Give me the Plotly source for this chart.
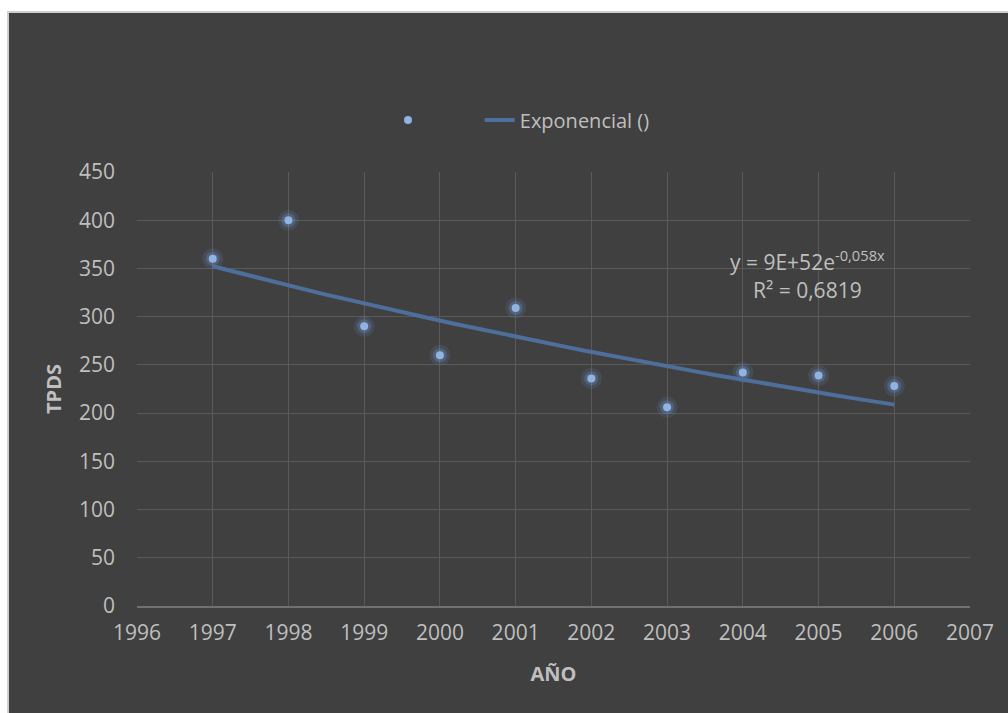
import numpy as np
import plotly.graph_objects as go

# Annual TPDS values
years = [1997, 1998, 1999, 2000, 2001, 2002, 2003, 2004, 2005, 2006]
tpds = [360, 400, 290, 260, 309, 236, 206, 242, 239, 228]

x_ticks = list(range(1996, 2008))
y_ticks = list(range(0, 451, 50))

equation_text = "y = 9E+52e<sup>-0,058x</sup>"
r2_text = "R² = 0,6819"

# Exponential trendline: least squares on log(y)
xa = np.array(years, dtype=float)
ya = np.array(tpds, dtype=float)
slope, intercept = np.polyfit(xa, np.log(ya), 1)
trend_x = np.linspace(xa.min(), xa.max(), 60)
trend_y = np.exp(intercept + slope * trend_x)

BG = "#404040"
GRID = "#5a5a5a"
TXT = "#bfbfbf"
FONT = "Open Sans"

fig = go.Figure()

# soft halo behind each point
fig.add_trace(go.Scatter(
    x=years, y=tpds, mode="markers", showlegend=False, hoverinfo="skip",
    marker=dict(size=21, color="rgba(110,150,210,0.15)", line=dict(width=0)),
))
fig.add_trace(go.Scatter(
    x=years, y=tpds, mode="markers", showlegend=False, hoverinfo="skip",
    marker=dict(size=14, color="rgba(120,160,220,0.25)", line=dict(width=0)),
))
fig.add_trace(go.Scatter(
    x=years, y=tpds, mode="markers", name="\u00a0" * 9,
    marker=dict(size=8, color="#8fb4e3", line=dict(width=0)),
))
fig.add_trace(go.Scatter(
    x=trend_x, y=trend_y, mode="lines", name="Exponencial ()",
    line=dict(color="#4e6f9b", width=4),
))

fig.add_annotation(
    x=2004.86, y=358, xref="x", yref="y", text=equation_text, showarrow=False,
    font=dict(family=FONT, size=21, color=TXT), xanchor="center", yanchor="middle",
)
fig.add_annotation(
    x=2004.86, y=328, xref="x", yref="y", text=r2_text, showarrow=False,
    font=dict(family=FONT, size=21, color=TXT), xanchor="center", yanchor="middle",
)

# chart-area frame
fig.add_shape(
    type="rect", xref="paper", yref="paper", layer="below",
    x0=-0.1549, x1=1.06, y0=-0.27, y1=1.3687,
    fillcolor=BG, line=dict(color="#d0d0d0", width=2),
)

fig.update_layout(
    width=1008, height=713,
    margin=dict(l=137, r=38, t=172, b=107),
    paper_bgcolor="white",
    plot_bgcolor="rgba(0,0,0,0)",
    font=dict(family=FONT, color=TXT, size=20),
    showlegend=True,
    legend=dict(
        orientation="h", x=(388 - 137) / 833, xanchor="left",
        y=(606 - 120) / 434, yanchor="middle",
        font=dict(family=FONT, size=20, color=TXT),
        bgcolor="rgba(0,0,0,0)",
    ),
    xaxis=dict(
        range=[1996, 2007], tickvals=x_ticks, ticktext=[str(v) for v in x_ticks],
        showgrid=True, gridcolor=GRID, gridwidth=1, zeroline=False,
        showline=True, linecolor="#707070", linewidth=2, ticks="",
        ticklabelstandoff=7,
        tickfont=dict(family=FONT, size=21, color=TXT),
        title=dict(text="<b>AÑO</b>", font=dict(family=FONT, size=20, color=TXT), standoff=22),
    ),
    yaxis=dict(
        range=[0, 450], tickvals=y_ticks, showgrid=True, gridcolor=GRID, gridwidth=1,
        zeroline=False, showline=False, ticks="",
        ticklabelstandoff=21,
        tickfont=dict(family=FONT, size=21, color=TXT),
        title=dict(text="<b>TPDS</b>", font=dict(family=FONT, size=20, color=TXT), standoff=11),
    ),
)

fig.write_html("out.html")
